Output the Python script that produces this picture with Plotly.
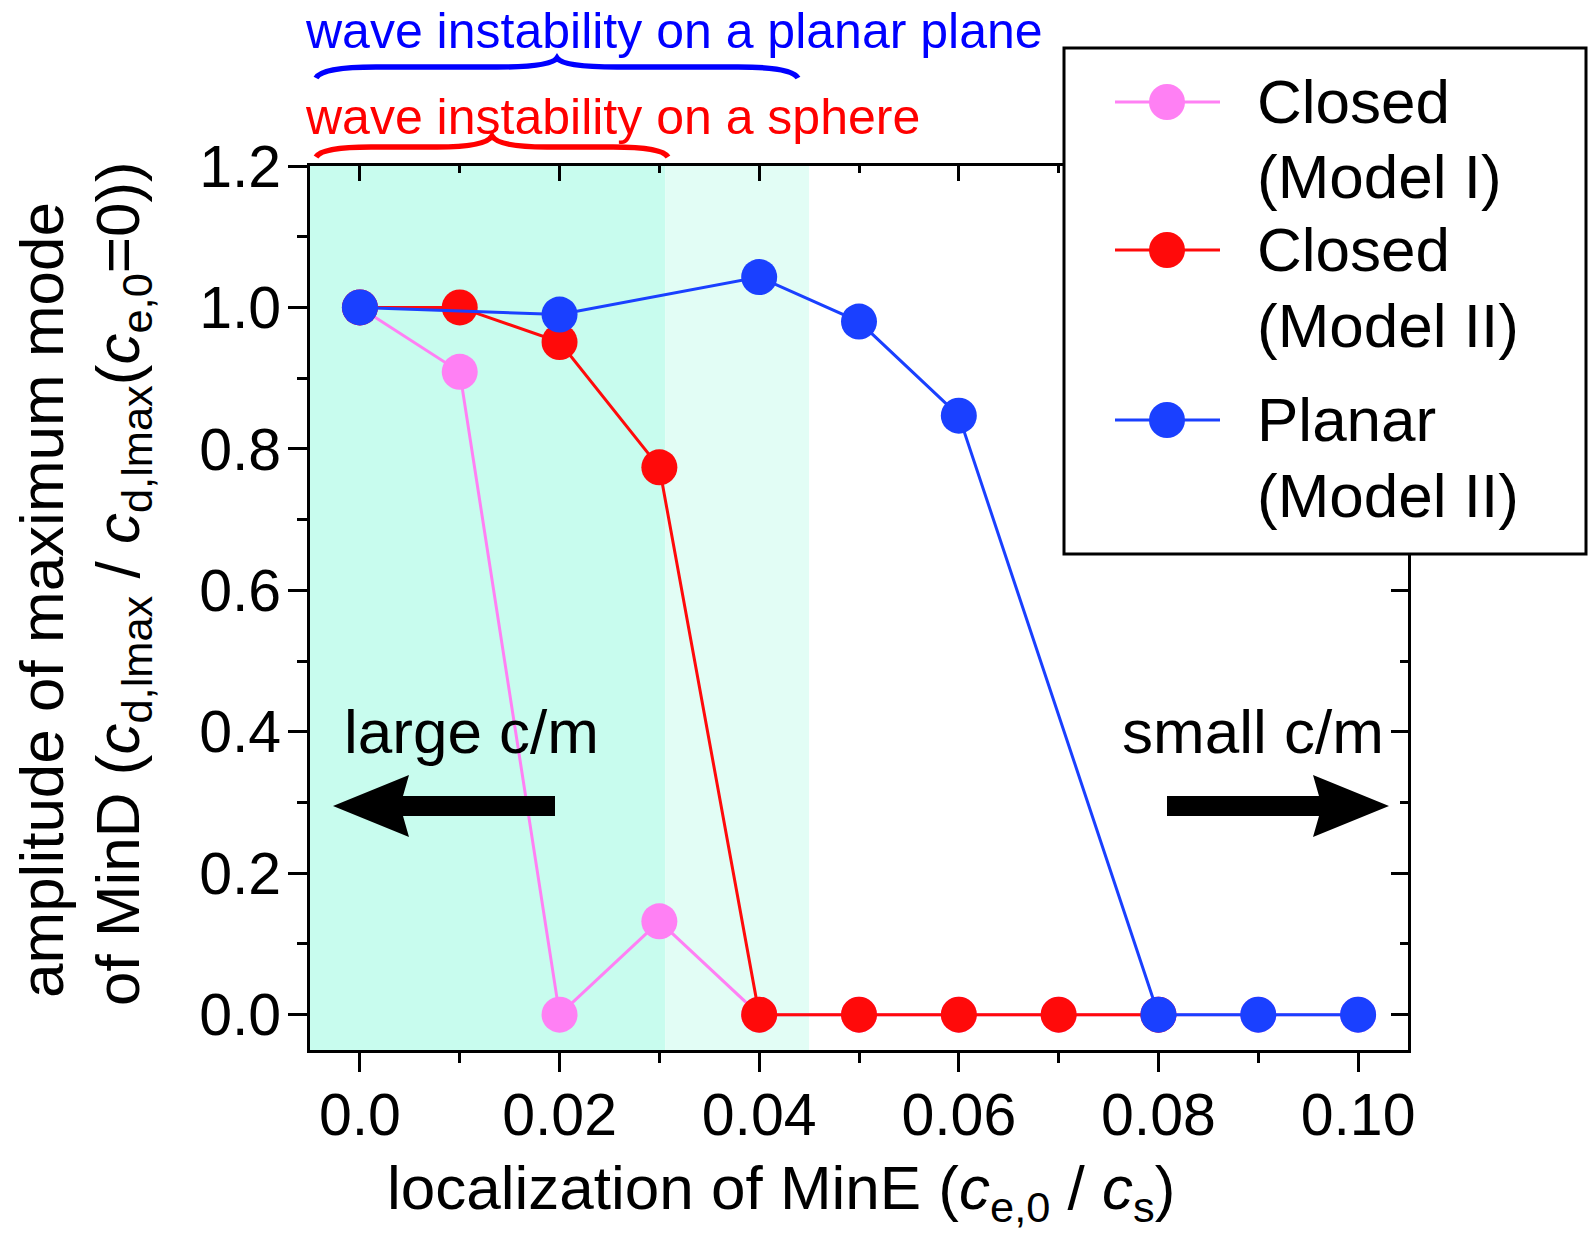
import plotly.graph_objects as go

# ---- data -------------------------------------------------------------
x_closed_m1 = [0.00, 0.01, 0.02, 0.03, 0.04, 0.05, 0.06, 0.07, 0.08, 0.09, 0.10]
y_closed_m1 = [1.00, 0.909, 0.00, 0.132, 0.00, 0.00, 0.00, 0.00, 0.00, 0.00, 0.00]

x_closed_m2 = [0.00, 0.01, 0.02, 0.03, 0.04, 0.05, 0.06, 0.07, 0.08]
y_closed_m2 = [1.00, 1.00, 0.951, 0.774, 0.00, 0.00, 0.00, 0.00, 0.00]

x_planar_m2 = [0.00, 0.02, 0.04, 0.05, 0.06, 0.08, 0.09, 0.10]
y_planar_m2 = [1.00, 0.99, 1.043, 0.98, 0.847, 0.00, 0.00, 0.00]

series_names = ["Closed<br>(Model I)", "Closed<br>(Model II)", "Planar<br>(Model II)"]
series_colors = ["#ff80f4", "#ff0a0a", "#1a40ff"]

x_tick_vals = [0.00, 0.02, 0.04, 0.06, 0.08, 0.10]
x_tick_text = ["0.0", "0.02", "0.04", "0.06", "0.08", "0.10"]
y_tick_vals = [0.0, 0.2, 0.4, 0.6, 0.8, 1.0, 1.2]
y_tick_text = ["0.0", "0.2", "0.4", "0.6", "0.8", "1.0", "1.2"]

X_RANGE = [-0.005, 0.105]
Y_RANGE = [-0.05, 1.2]

# wave-instability windows (shaded bands)
sphere_window_end = 0.0306
planar_window_end = 0.045

# ---- page geometry ----------------------------------------------------
W, H = 1594, 1236
L, R, T, B = 310, 1408, 166, 1050   # plot-area edges in pixels
PW, PH = R - L, B - T

FONT = "Liberation Sans, Arial, sans-serif"
FS = 62


def px(x):
    return (x - L) / PW


def py(y):
    return (B - y) / PH


def path_from(points):
    return "M " + " L ".join(f"{px(a):.5f},{py(b):.5f}" for a, b in points) + " Z"


fig = go.Figure()

for xs, ys, name, col in zip(
    [x_closed_m1, x_closed_m2, x_planar_m2],
    [y_closed_m1, y_closed_m2, y_planar_m2],
    series_names, series_colors,
):
    fig.add_trace(go.Scatter(
        x=xs, y=ys, name=name, mode="lines+markers",
        line=dict(color=col, width=3),
        marker=dict(color=col, size=36, line=dict(width=0)),
        showlegend=False, cliponaxis=False,
    ))

# empty trace so the mirrored top / right axes get rendered
fig.add_trace(go.Scatter(x=[None], y=[None], xaxis="x2", yaxis="y2",
                         showlegend=False, hoverinfo="skip"))

shapes = []
# shaded bands
shapes.append(dict(type="rect", xref="x", yref="paper", x0=X_RANGE[0], x1=sphere_window_end,
                   y0=0, y1=1, fillcolor="#c8fcee", line=dict(width=0), layer="below"))
shapes.append(dict(type="rect", xref="x", yref="paper", x0=sphere_window_end, x1=planar_window_end,
                   y0=0, y1=1, fillcolor="#e2fdf5", line=dict(width=0), layer="below"))


def brace(xl, xr, ye, ya, yt, w):
    xc = (xl + xr) / 2
    pts = [
        ("M", (xl, ye)),
        ("Q", (xl + 6, ya), (xl + w, ya)),
        ("L", (xc - w, ya)),
        ("Q", (xc - 6, ya), (xc, yt)),
        ("Q", (xc + 6, ya), (xc + w, ya)),
        ("L", (xr - w, ya)),
        ("Q", (xr - 6, ya), (xr, ye)),
    ]
    out = []
    for seg in pts:
        cmd = seg[0]
        coords = " ".join(f"{px(a):.5f},{py(b):.5f}" for a, b in seg[1:])
        out.append(f"{cmd} {coords}")
    return " ".join(out)


shapes.append(dict(type="path", xref="paper", yref="paper",
                   path=brace(316, 798, 78, 67, 58, 60),
                   line=dict(color="#0000ff", width=5.5)))
shapes.append(dict(type="path", xref="paper", yref="paper",
                   path=brace(316, 668, 157, 147, 136, 55),
                   line=dict(color="#ff0000", width=5.5)))

# direction arrows
ay = 806
shapes.append(dict(type="path", xref="paper", yref="paper", fillcolor="black", line=dict(width=0),
                   path=path_from([(333, ay), (409, ay - 31), (403, ay - 10), (555, ay - 10),
                                   (555, ay + 10), (403, ay + 10), (409, ay + 31)])))
shapes.append(dict(type="path", xref="paper", yref="paper", fillcolor="black", line=dict(width=0),
                   path=path_from([(1389, ay), (1313, ay - 31), (1319, ay - 10), (1167, ay - 10),
                                   (1167, ay + 10), (1319, ay + 10), (1313, ay + 31)])))

# legend box
shapes.append(dict(type="rect", xref="paper", yref="paper", x0=px(1064), x1=px(1586),
                   y0=py(554), y1=py(48), fillcolor="white", line=dict(color="black", width=3)))

annotations = []
legend_y = [102, 250, 420]
legend_lines = [("Closed", "(Model I)"), ("Closed", "(Model II)"), ("Planar", "(Model II)")]
for (l1, l2), yy, col in zip(legend_lines, legend_y, series_colors):
    shapes.append(dict(type="line", xref="paper", yref="paper", x0=px(1115), x1=px(1220),
                       y0=py(yy), y1=py(yy), line=dict(color=col, width=3)))
    shapes.append(dict(type="circle", xref="paper", yref="paper", fillcolor=col, line=dict(width=0),
                       x0=px(1167 - 18), x1=px(1167 + 18), y0=py(yy + 18), y1=py(yy - 18)))
    annotations.append(dict(xref="paper", yref="paper", x=px(1255), y=py(yy - 1), text=l1,
                            xanchor="left", yanchor="middle", showarrow=False,
                            font=dict(family=FONT, size=FS, color="black")))
    annotations.append(dict(xref="paper", yref="paper", x=px(1255), y=py(yy + 75), text=l2,
                            xanchor="left", yanchor="middle", showarrow=False,
                            font=dict(family=FONT, size=FS, color="black")))

# headings above the plot
annotations.append(dict(xref="paper", yref="paper", x=px(303), y=py(31), xanchor="left", yanchor="middle",
                        text="wave instability on a planar plane", showarrow=False,
                        font=dict(family=FONT, size=50, color="#0000ff")))
annotations.append(dict(xref="paper", yref="paper", x=px(303), y=py(117), xanchor="left", yanchor="middle",
                        text="wave instability on a sphere", showarrow=False,
                        font=dict(family=FONT, size=50, color="#ff0000")))

# in-plot labels
annotations.append(dict(xref="paper", yref="paper", x=px(342), y=py(731), xanchor="left", yanchor="middle",
                        text="large c/m", showarrow=False, font=dict(family=FONT, size=FS, color="black")))
annotations.append(dict(xref="paper", yref="paper", x=px(1386), y=py(731), xanchor="right", yanchor="middle",
                        text="small c/m", showarrow=False, font=dict(family=FONT, size=FS, color="black")))

# axis titles
annotations.append(dict(xref="paper", yref="paper", x=px(781), y=py(1192), xanchor="center", yanchor="middle",
                        text="localization of MinE (<i>c</i><sub>e,0</sub> / <i>c</i><sub>s</sub>)",
                        showarrow=False, font=dict(family=FONT, size=FS, color="black")))
annotations.append(dict(xref="paper", yref="paper", x=px(41), y=py(600), xanchor="center", yanchor="middle",
                        textangle=-90, text="amplitude of maximum mode",
                        showarrow=False, font=dict(family=FONT, size=FS, color="black")))
annotations.append(dict(xref="paper", yref="paper", x=px(122), y=py(584), xanchor="center", yanchor="middle",
                        textangle=-90,
                        text="of MinD (<i>c</i><sub>d,lmax</sub> / <i>c</i><sub>d,lmax</sub>(<i>c</i><sub>e,0</sub>=0))",
                        showarrow=False, font=dict(family=FONT, size=FS, color="black")))

axis_common = dict(showgrid=False, zeroline=False, showline=True, linecolor="black", linewidth=3,
                   tickcolor="black", tickwidth=3)

fig.update_layout(
    width=W, height=H,
    margin=dict(l=L, r=W - R, t=T, b=H - B, pad=0),
    paper_bgcolor="white", plot_bgcolor="white",
    showlegend=False,
    font=dict(family=FONT, color="black"),
    xaxis=dict(range=X_RANGE, tickmode="array", tickvals=x_tick_vals, ticktext=x_tick_text,
               ticks="outside", ticklen=19, ticklabelstandoff=-8,
               tickfont=dict(family=FONT, size=59, color="black"),
               minor=dict(tickmode="linear", tick0=0, dtick=0.01, ticks="outside", ticklen=10,
                          tickwidth=3, tickcolor="black"),
               **axis_common),
    yaxis=dict(range=Y_RANGE, tickmode="array", tickvals=y_tick_vals, ticktext=y_tick_text,
               ticks="outside", ticklen=19, ticklabelstandoff=-5,
               tickfont=dict(family=FONT, size=59, color="black"),
               minor=dict(tickmode="linear", tick0=0, dtick=0.1, ticks="outside", ticklen=10,
                          tickwidth=3, tickcolor="black"),
               **axis_common),
    xaxis2=dict(range=X_RANGE, overlaying="x", side="top", anchor="y2", showticklabels=False,
                tickmode="linear", tick0=0, dtick=0.02, ticks="inside", ticklen=15,
                minor=dict(tickmode="linear", tick0=0, dtick=0.01, ticks="inside", ticklen=7,
                           tickwidth=3, tickcolor="black"),
                **axis_common),
    yaxis2=dict(range=Y_RANGE, overlaying="y", side="right", anchor="x2", showticklabels=False,
                tickmode="linear", tick0=0, dtick=0.2, ticks="inside", ticklen=17,
                minor=dict(tickmode="linear", tick0=0, dtick=0.1, ticks="inside", ticklen=8,
                           tickwidth=3, tickcolor="black"),
                **axis_common),
    shapes=shapes,
    annotations=annotations,
)

fig.write_html("out.html")
